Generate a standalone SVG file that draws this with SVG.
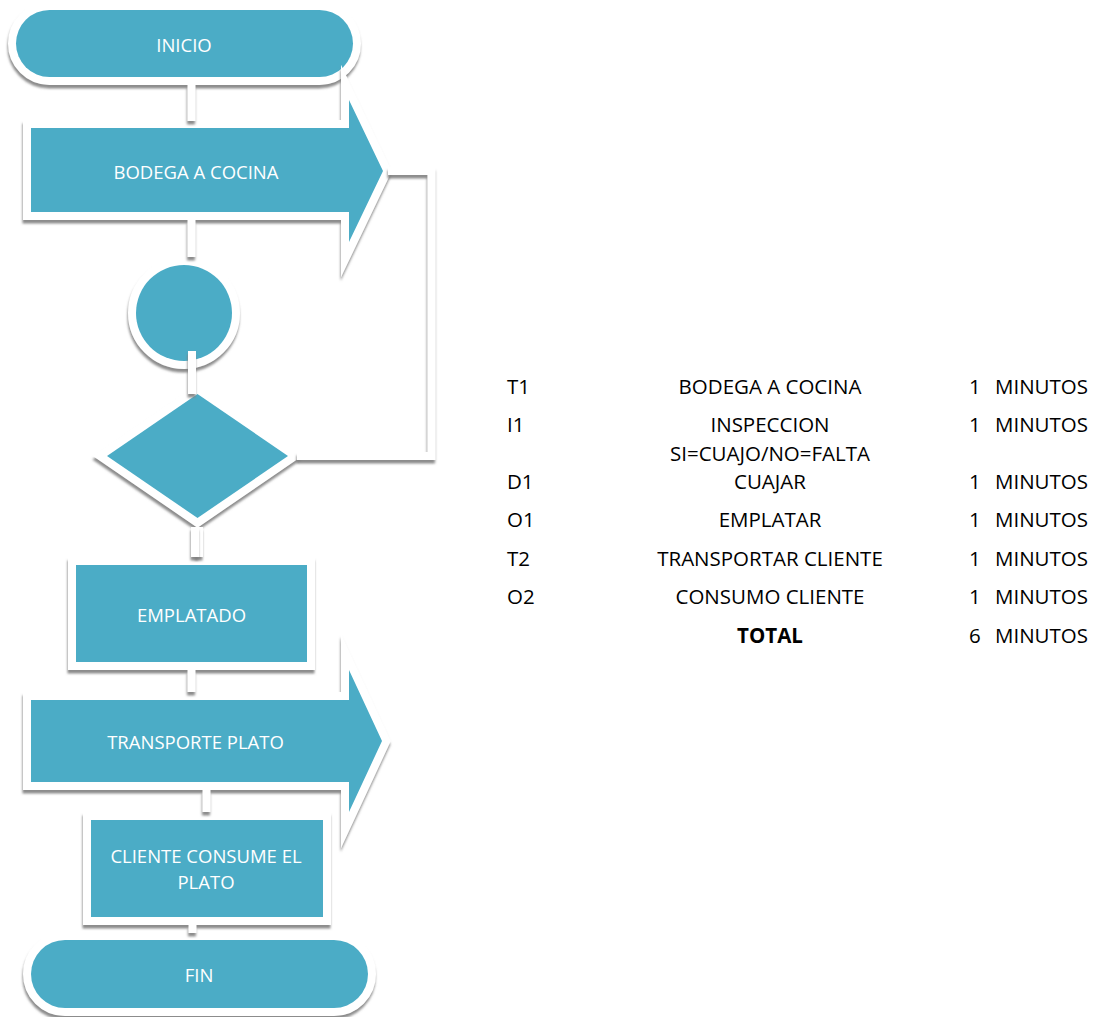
<svg xmlns="http://www.w3.org/2000/svg" width="1098" height="1017" viewBox="0 0 1098 1017">
  <defs>
    <!-- soft drop shadow shared by shapes and connectors -->
    <filter id="shadow" filterUnits="userSpaceOnUse" x="0" y="0" width="1098" height="1017">
      <feDropShadow dx="-0.5" dy="3.5" stdDeviation="1" flood-color="#7f7f7f" flood-opacity="0.9"/>
    </filter>
  </defs>
  <style>
    .halo{fill:#fff;stroke:#fff;stroke-width:16;stroke-linejoin:miter;stroke-miterlimit:12;filter:url(#shadow)}
    .shape{fill:#4bacc6}
    .lbl{font-family:"Open Sans","Liberation Sans",sans-serif;font-size:18.5px;fill:#fff;text-anchor:middle}
    .link{fill:none;stroke:#fff;stroke-width:8;stroke-linecap:butt;stroke-linejoin:miter;filter:url(#shadow)}
    .tbl{font-family:"Open Sans","Liberation Sans",sans-serif;font-size:20.5px;fill:#000}
    .mid{text-anchor:middle}
  </style>
  <rect width="1098" height="1017" fill="#fff"/>

  <!-- flowchart nodes -->
  <g id="inicio">
    <rect class="halo" x="16" y="10" width="337" height="67" rx="33.5"/>
    <rect class="shape" x="16" y="10" width="337" height="67" rx="33.5"/>
    <text class="lbl" x="184" y="51.5">INICIO</text>
  </g>
  <g id="bodega">
    <polygon class="halo" points="31,128 349,128 349,100 383,171 349,242 349,212 31,212"/>
    <polygon class="shape" points="31,128 349,128 349,100 383,171 349,242 349,212 31,212"/>
    <text class="lbl" x="196" y="179">BODEGA A COCINA</text>
  </g>
  <g id="circulo">
    <circle class="halo" cx="184" cy="313" r="48"/>
    <circle class="shape" cx="184" cy="313" r="48"/>
  </g>
  <g id="decision">
    <polygon class="halo" points="107,456 197.5,394 288,456 197.5,518"/>
    <polygon class="shape" points="107,456 197.5,394 288,456 197.5,518"/>
  </g>
  <g id="emplatado">
    <rect class="halo" x="76" y="565" width="231" height="97"/>
    <rect class="shape" x="76" y="565" width="231" height="97"/>
    <text class="lbl" x="191.5" y="621.5">EMPLATADO</text>
  </g>
  <g id="transporte">
    <polygon class="halo" points="31,700 349,700 349,670 382,741 349,812 349,782 31,782"/>
    <polygon class="shape" points="31,700 349,700 349,670 382,741 349,812 349,782 31,782"/>
    <text class="lbl" x="195.5" y="749">TRANSPORTE PLATO</text>
  </g>
  <g id="cliente">
    <rect class="halo" x="91" y="820" width="232" height="97"/>
    <rect class="shape" x="91" y="820" width="232" height="97"/>
    <text class="lbl" x="206" y="863">CLIENTE CONSUME EL</text>
    <text class="lbl" x="206" y="889">PLATO</text>
  </g>
  <g id="fin">
    <rect class="halo" x="31" y="940" width="337" height="68" rx="34"/>
    <rect class="shape" x="31" y="940" width="337" height="68" rx="34"/>
    <text class="lbl" x="199" y="981.5">FIN</text>
  </g>

  <!-- connectors -->
  <g id="connectors">
    <path class="link" d="M191.5,84 V121"/>
    <path class="link" d="M191.5,220 V257"/>
    <path class="link" d="M192,351 V394"/>
    <path class="link" d="M199,527 V557"/>
    <path class="link" d="M195,527 V557"/>
    <path class="link" d="M191.5,670 V692"/>
    <path class="link" d="M206.5,790 V812"/>
    <path class="link" d="M192.5,925 V933"/>
    <path class="link" d="M388,171 H431.5 V456 H297"/>
  </g>

  <!-- time summary table -->
  <g id="tabla" class="tbl">
    <text x="507" y="394">T1</text>
    <text class="mid" x="770" y="394">BODEGA A COCINA</text>
    <text x="969" y="394">1</text>
    <text x="995" y="394">MINUTOS</text>

    <text x="507" y="432">I1</text>
    <text class="mid" x="770" y="432">INSPECCION</text>
    <text x="969" y="432">1</text>
    <text x="995" y="432">MINUTOS</text>
    <text class="mid" x="770" y="461">SI=CUAJO/NO=FALTA</text>

    <text x="507" y="489">D1</text>
    <text class="mid" x="770" y="489">CUAJAR</text>
    <text x="969" y="489">1</text>
    <text x="995" y="489">MINUTOS</text>

    <text x="507" y="527">O1</text>
    <text class="mid" x="770" y="527">EMPLATAR</text>
    <text x="969" y="527">1</text>
    <text x="995" y="527">MINUTOS</text>

    <text x="507" y="566">T2</text>
    <text class="mid" x="770" y="566">TRANSPORTAR CLIENTE</text>
    <text x="969" y="566">1</text>
    <text x="995" y="566">MINUTOS</text>

    <text x="507" y="604">O2</text>
    <text class="mid" x="770" y="604">CONSUMO CLIENTE</text>
    <text x="969" y="604">1</text>
    <text x="995" y="604">MINUTOS</text>

    <text class="mid" x="770" y="643" font-weight="bold">TOTAL</text>
    <text x="969" y="643">6</text>
    <text x="995" y="643">MINUTOS</text>
  </g>
</svg>
